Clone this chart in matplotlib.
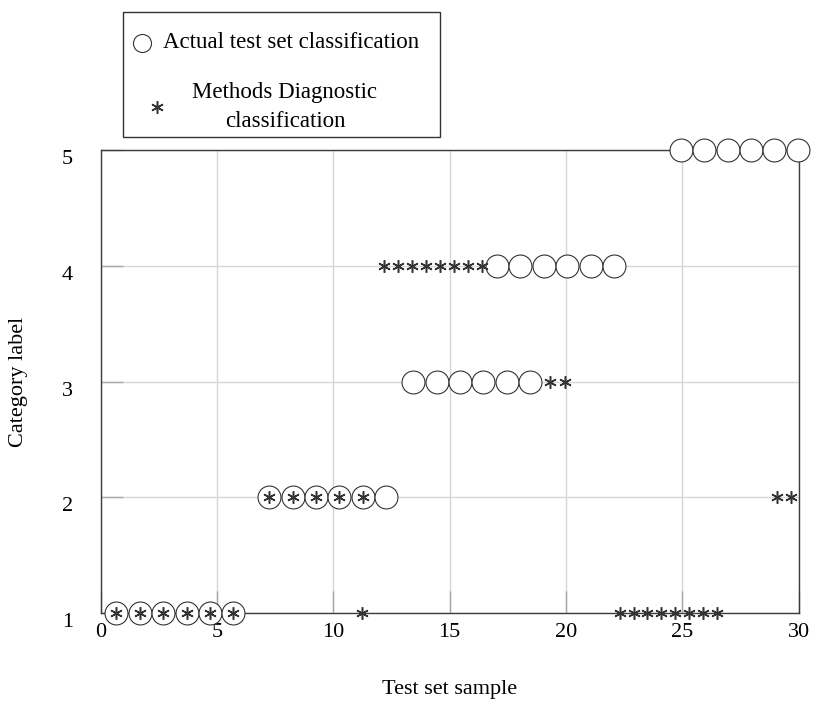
"""Actual vs. diagnosed category of each test set sample."""

import matplotlib

matplotlib.use("Agg")
import matplotlib.pyplot as plt
from matplotlib.lines import Line2D
from matplotlib.patches import Rectangle
from matplotlib.transforms import ScaledTranslation

plt.rcParams["font.family"] = ["Liberation Serif", "DejaVu Serif"]

# Actual test set classification (circles)
actual_x = [0.67, 1.67, 2.68, 3.71, 4.68, 5.69,
            7.25, 8.26, 9.26, 10.26, 11.27, 12.28,
            13.43, 14.44, 15.44, 16.45, 17.45, 18.46,
            17.04, 18.04, 19.05, 20.05, 21.06, 22.07,
            24.93, 25.93, 26.94, 27.94, 28.95, 29.96]
actual_y = [1, 1, 1, 1, 1, 1,
            2, 2, 2, 2, 2, 2,
            3, 3, 3, 3, 3, 3,
            4, 4, 4, 4, 4, 4,
            5, 5, 5, 5, 5, 5]

# Methods diagnostic classification (asterisks)
pred_x = [0.67, 1.67, 2.68, 3.71, 4.68, 5.69,
          7.25, 8.26, 9.26, 10.26, 11.27,
          11.25,
          12.18, 12.78, 13.39, 13.98, 14.58, 15.17, 15.78, 16.37,
          19.32, 19.94,
          22.31, 22.90, 23.50, 24.09, 24.70, 25.28, 25.87, 26.48,
          29.06, 29.68]
pred_y = [1, 1, 1, 1, 1, 1,
          2, 2, 2, 2, 2,
          1,
          4, 4, 4, 4, 4, 4, 4, 4,
          3, 3,
          1, 1, 1, 1, 1, 1, 1, 1,
          2, 2]

x_ticks = [0, 5, 10, 15, 20, 25, 30]
y_ticks = [1, 2, 3, 4, 5]

LABEL_ACTUAL = "Actual test set classification"
LABEL_PRED = "Methods Diagnostic\nclassification"
INK = "#333333"
ASTERISK = (6, 2, 0)

W, H = 816, 719
fig = plt.figure(figsize=(W / 100, H / 100), dpi=100)
ax = fig.add_axes([100.7 / W, 1 - 613.3 / H, 698 / W, 463.3 / H])

ax.plot(actual_x, actual_y, linestyle="none", marker="o", markersize=16.5,
        markerfacecolor="white", markeredgecolor=INK, markeredgewidth=0.8,
        clip_on=False, zorder=3)
ax.plot(pred_x, pred_y, linestyle="none", marker=ASTERISK, markersize=9,
        markeredgecolor=INK, markeredgewidth=1.1, clip_on=False, zorder=4)

ax.set_xlim(0, 30)
ax.set_ylim(1, 5)
ax.set_xticks(x_ticks)
ax.set_yticks(y_ticks)
ax.tick_params(direction="in", length=16, width=1, color="#a8a8a8",
               labelsize=16)
ax.tick_params(axis="x", pad=7)
ax.tick_params(axis="y", pad=20)
ax.yaxis.get_major_ticks()[2].tick1line.set_color("#333333")
ax.grid(True, color="#d6d6d6", linewidth=1)
ax.set_axisbelow(True)
for spine in ax.spines.values():
    spine.set_color("#3c3c3c")
    spine.set_linewidth(1)

# y tick labels sit a little below their grid lines
shift = ScaledTranslation(0, -5 / 72, fig.dpi_scale_trans)
for label in ax.get_yticklabels():
    label.set_transform(label.get_transform() + shift)

ax.set_xlabel("Test set sample", fontsize=16)
ax.set_ylabel("Category label", fontsize=16)
ax.xaxis.set_label_coords(0.5, -0.145)
ax.yaxis.set_label_coords(-0.104, 0.5)

# legend box drawn in figure pixels
fig.patches.append(Rectangle((123 / W, 1 - 137 / H), 317 / W, 125 / H,
                             transform=fig.transFigure, facecolor="white",
                             edgecolor=INK, linewidth=1))
fig.lines.append(Line2D([142 / W], [1 - 43 / H], transform=fig.transFigure,
                        linestyle="none", marker="o", markersize=13,
                        markerfacecolor="white", markeredgecolor=INK,
                        markeredgewidth=0.8))
fig.lines.append(Line2D([157 / W], [1 - 107 / H], transform=fig.transFigure,
                        linestyle="none", marker=ASTERISK, markersize=9,
                        markeredgecolor=INK, markeredgewidth=1.1))
fig.text(163 / W, 1 - 43 / H, LABEL_ACTUAL, fontsize=16.5, va="center",
         ha="left")
fig.text(285 / W, 1 - 107 / H, LABEL_PRED, fontsize=16.5, va="center",
         ha="center", multialignment="center", linespacing=1.45)

fig.savefig("out.png", dpi=100)
